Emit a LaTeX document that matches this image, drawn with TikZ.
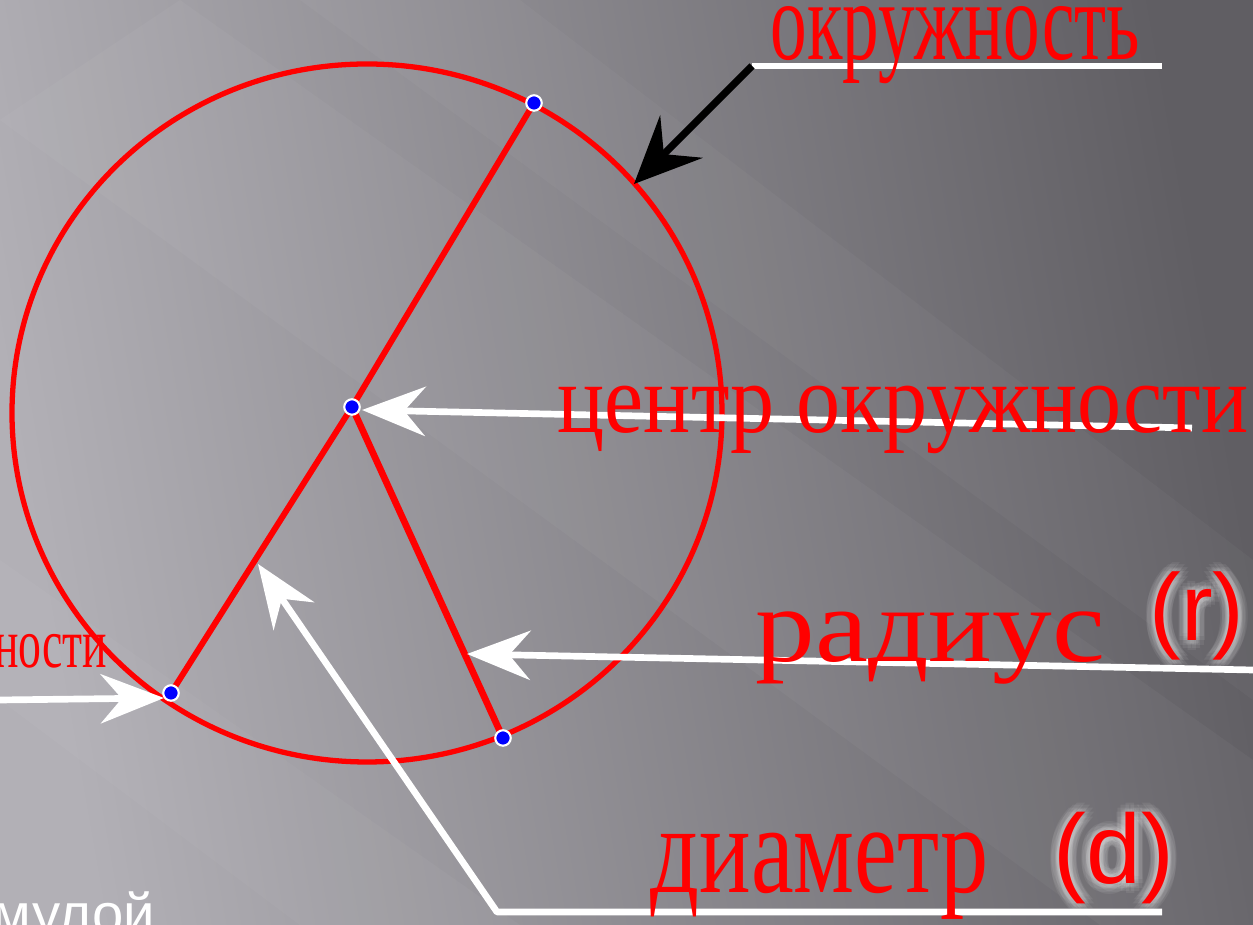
\documentclass[tikz,border=0pt]{standalone}
\usepackage{fontspec}
\usepackage{graphicx}
\setmainfont{Liberation Serif}
\newfontfamily\labelsans{Liberation Sans}
\usetikzlibrary{arrows.meta}
\definecolor{bgLight}{RGB}{178,176,182}
\definecolor{bgDark}{RGB}{96,94,99}
\definecolor{ptBlue}{RGB}{0,0,255}

\tikzset{
  pointer/.style={white, line width=1.9pt, -{Stealth[length=18pt,width=14pt,inset=6pt]}},
  blackpointer/.style={black, line width=2.1pt, -{Stealth[length=19pt,width=17pt,inset=7pt]}},
  ruler/.style={white, line width=1.9pt},
  dot/.style={circle, fill=ptBlue, draw=white, line width=0.6pt, inner sep=0pt, minimum size=4.4pt},
  redlabel/.style={text=red, inner sep=0pt},
  halo/.style={text=white, opacity=0.07, inner sep=0pt}
}

\begin{document}
\begin{tikzpicture}[x=0.01cm, y=-0.01cm]
  \useasboundingbox (0,0) rectangle (1253,925);
  % background
  \shade[left color=bgLight, right color=bgDark, shading angle=100] (0,0) rectangle (1253,925);
  \fill[white, opacity=0.035] (0,120) -- (180,0) -- (1253,760) -- (1253,925) -- (1100,925) -- cycle;
  \fill[white, opacity=0.03] (300,0) -- (520,0) -- (1253,560) -- (1253,700) -- cycle;
  \fill[white, opacity=0.03] (0,560) -- (0,700) -- (300,925) -- (520,925) -- cycle;

  % points
  \coordinate (O) at (367,413);
  \coordinate (A) at (534,103);
  \coordinate (M) at (352,407);
  \coordinate (B) at (171,693);
  \coordinate (R) at (503,738);

  % free ends of the pointers
  \coordinate (topL) at (752,66);
  \coordinate (topR) at (1162,66);
  \coordinate (hitC) at (634,184);
  \coordinate (cenS) at (1192,428);
  \coordinate (cenT) at (362,410);
  \coordinate (radS) at (1253,670);
  \coordinate (radT) at (467,654);
  \coordinate (leftS) at (0,700);
  \coordinate (leftT) at (164,698);
  \coordinate (diaR) at (1162,912);
  \coordinate (diaK) at (497,912);
  \coordinate (diaT) at (258,564);

  % circle, diameter and radius
  \draw[red, line width=1.5pt] (O) ellipse [x radius=355, y radius=349];
  \draw[red, line width=1.7pt] (A) -- (M) -- (B);
  \draw[red, line width=1.9pt] (M) -- (R);

  % pointers
  \draw[ruler] (topL) -- (topR);
  \draw[pointer] (cenS) -- (cenT);
  \draw[pointer] (radS) -- (radT);
  \draw[pointer] (leftS) -- (leftT);
  \draw[pointer, line join=round] (diaR) -- (diaK) -- (diaT);
  \draw[blackpointer] (topL) -- (hitC);

  \node[dot] (a) at (A) {};
  \node[dot] (m) at (M) {};
  \node[dot] (b) at (B) {};
  \node[dot] (r) at (R) {};

  % labels
  \node[redlabel, anchor=base west] (okr) at (770,60)
    {\fontsize{32}{32}\selectfont\scalebox{0.65}[1]{окружность}};
  \node[redlabel, anchor=base west] (cen) at (557,433)
    {\fontsize{28}{28}\selectfont\scalebox{0.895}[1]{центр окружности}};
  \node[redlabel, anchor=base west] (rad) at (755,662)
    {\fontsize{30}{30}\selectfont\scalebox{1.13}[1]{радиус}};
  \node[redlabel, anchor=base west] (dia) at (650,893)
    {\fontsize{36}{36}\selectfont\scalebox{0.76}[1]{диаметр}};
  \node[redlabel, anchor=base east] (nos) at (108,668)
    {\fontsize{20}{20}\selectfont\scalebox{0.65}[1]{ности}};
  \foreach \a in {0,30,...,330}{
    \foreach \d in {1.2pt,2.6pt}{
      \node[halo, anchor=base west, xshift={\d*cos(\a)}, yshift={\d*sin(\a)}] at (1149,641)
        {\labelsans\fontsize{27}{27}\selectfont (r)};
      \node[halo, anchor=base west, xshift={\d*cos(\a)}, yshift={\d*sin(\a)}] at (1053,884)
        {\labelsans\fontsize{28}{28}\selectfont (d)};
    }
  }
  \node[redlabel, anchor=base west] (rr) at (1149,641)
    {\labelsans\fontsize{27}{27}\selectfont (r)};
  \node[redlabel, anchor=base west] (dd) at (1053,884)
    {\labelsans\fontsize{28}{28}\selectfont (d)};
  \node[text=white, inner sep=0pt, anchor=base west] (mul) at (-8,934)
    {\labelsans\fontsize{16}{16}\selectfont мулой};
\end{tikzpicture}
\end{document}
